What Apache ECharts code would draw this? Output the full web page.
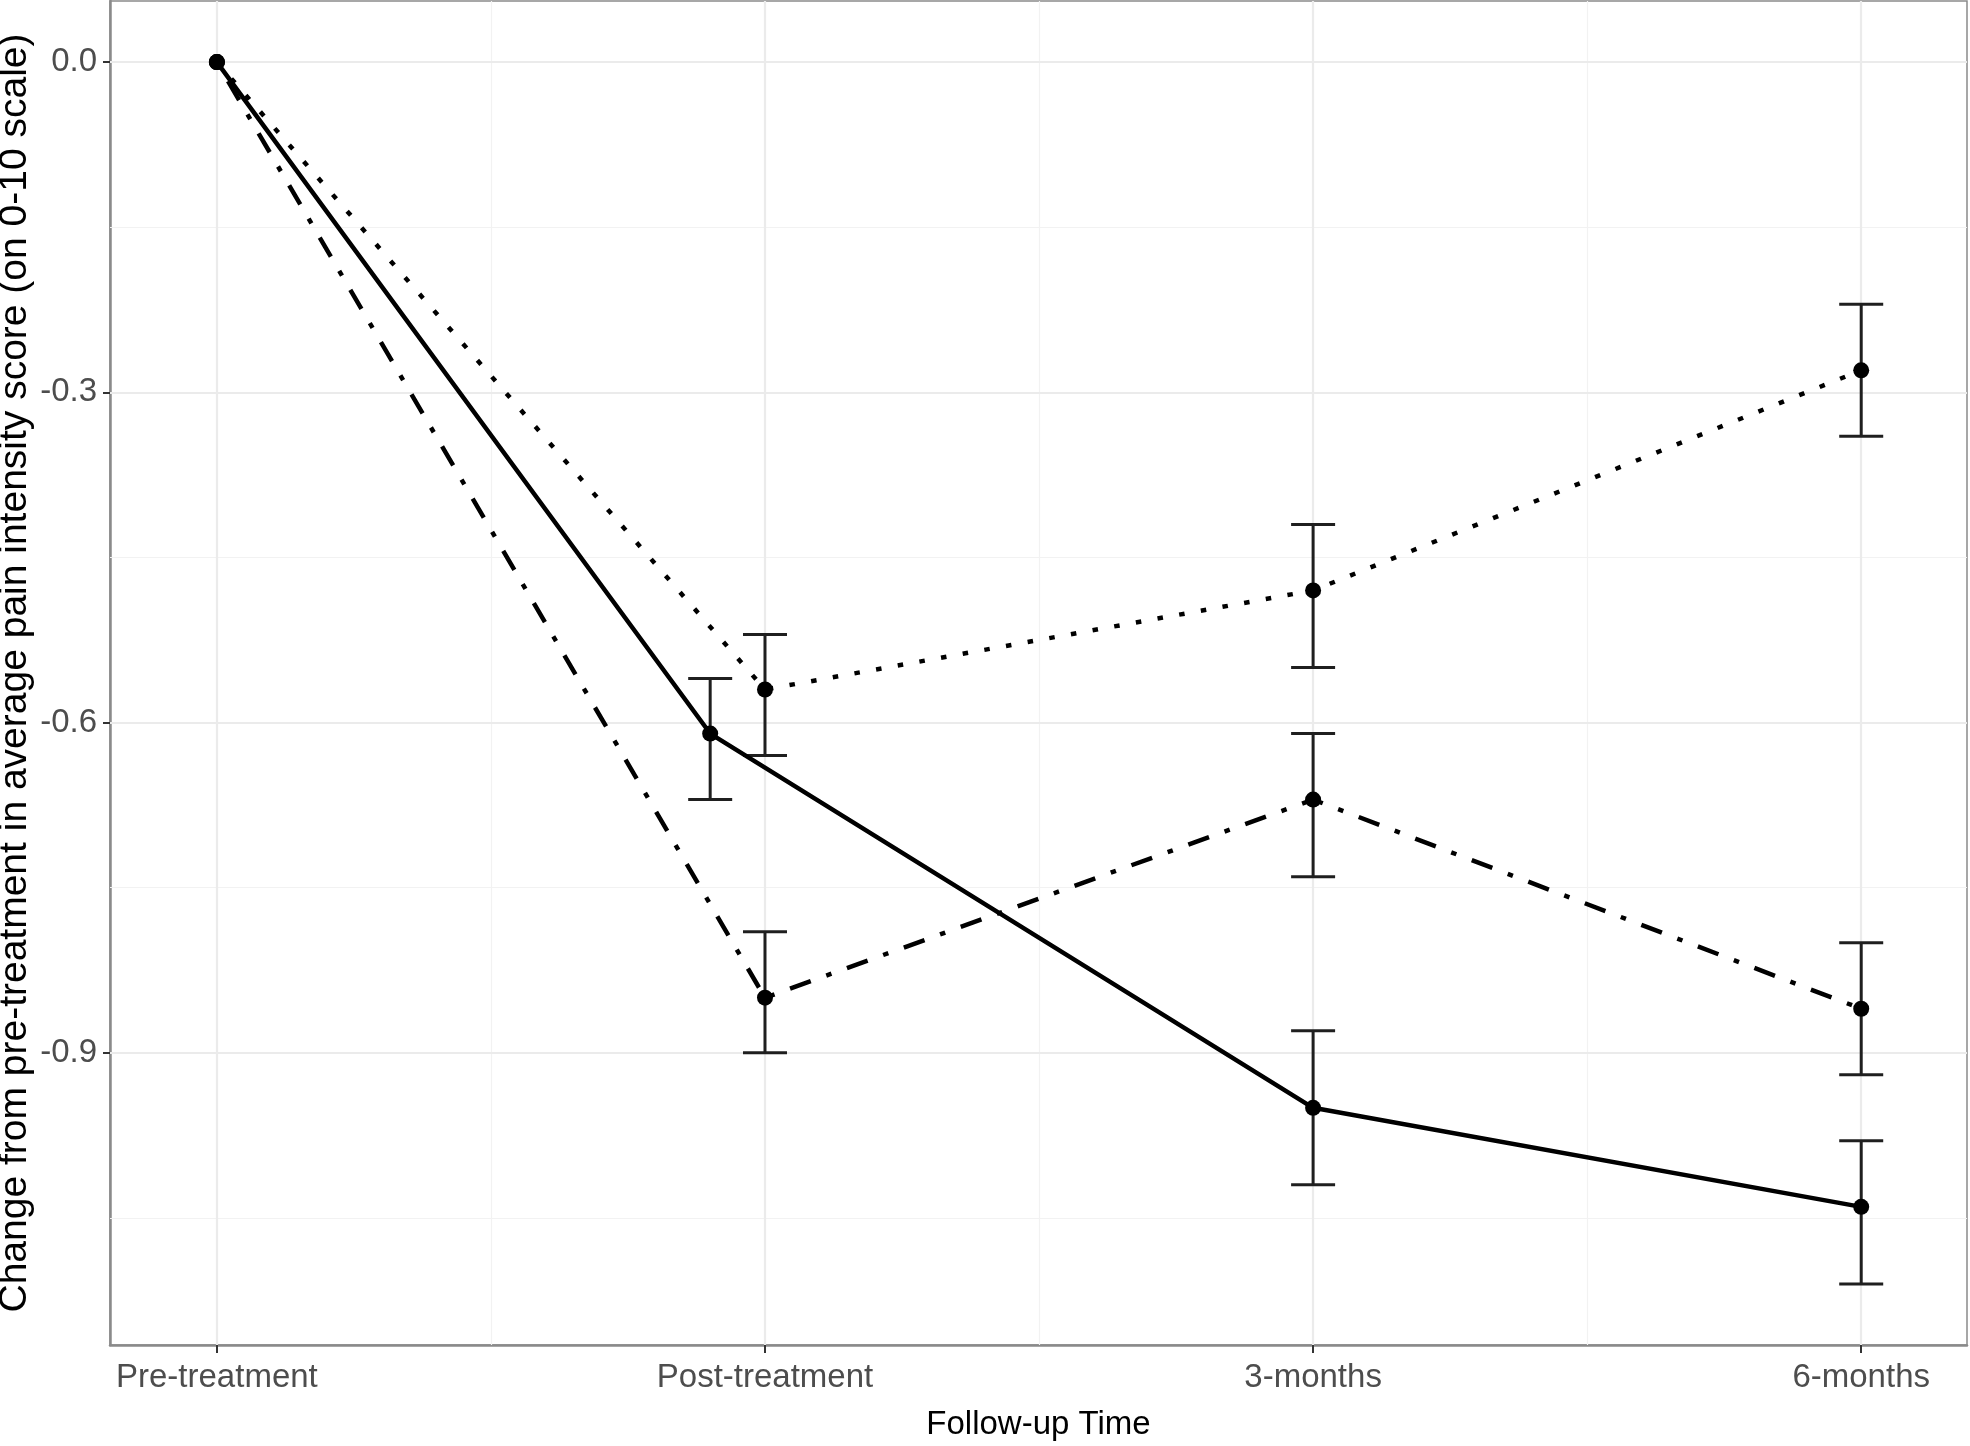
<!DOCTYPE html>
<html><head><meta charset="utf-8">
<script src="https://cdn.jsdelivr.net/npm/echarts@6/dist/echarts.min.js"></script>
<style>html,body{margin:0;padding:0;background:#fff}#c{width:1970px;height:1446px}</style>
</head><body><div id="c"></div>
<script>
// ---- data ----
const categories = ['Pre-treatment', 'Post-treatment', '3-months', '6-months'];
const catPositions = [1, 2, 3, 4];
const minorX = [1.5, 2.5, 3.5];
const majorY = [0, -0.3, -0.6, -0.9];
const minorY = [-0.15, -0.45, -0.75, -1.05];
const yTickLabels = ['0.0', '-0.3', '-0.6', '-0.9'];

const solidX = [1, 1.9, 3, 4];
const solidY = [0, -0.61, -0.95, -1.04];
const solidLow = [null, -0.67, -1.02, -1.11];
const solidHigh = [null, -0.56, -0.88, -0.98];

const dottedX = [1, 2, 3, 4];
const dottedY = [0, -0.57, -0.48, -0.28];
const dottedLow = [null, -0.63, -0.55, -0.34];
const dottedHigh = [null, -0.52, -0.42, -0.22];

const dashdotX = [1, 2, 3, 4];
const dashdotY = [0, -0.85, -0.67, -0.86];
const dashdotLow = [null, -0.90, -0.74, -0.92];
const dashdotHigh = [null, -0.79, -0.61, -0.80];

const xMin = 0.805, xMax = 4.193;
const yMin = -1.1655, yMax = 0.0555;

// ---- chart ----
const FONT = "'Liberation Sans', Arial, sans-serif";
const chart = echarts.init(document.getElementById('c'), null, {renderer: 'canvas'});

function zip(xs, ys) { return xs.map((x, i) => [x, ys[i]]); }

function errSeries(xs, lows, highs) {
  const data = [];
  xs.forEach((x, i) => { if (lows[i] != null) data.push([x, lows[i], highs[i]]); });
  return {
    type: 'custom', z: 3, silent: true, data: data,
    encode: {x: 0, y: [1, 2]},
    renderItem: function (params, api) {
      const x = api.value(0), lo = api.value(1), hi = api.value(2);
      const pLo = api.coord([x, lo]), pHi = api.coord([x, hi]);
      const hw = 22;
      const style = {stroke: '#1f1f1f', lineWidth: 3, fill: null};
      return {type: 'group', children: [
        {type: 'line', shape: {x1: pLo[0], y1: pLo[1], x2: pHi[0], y2: pHi[1]}, style: style},
        {type: 'line', shape: {x1: pLo[0] - hw, y1: pLo[1], x2: pLo[0] + hw, y2: pLo[1]}, style: style},
        {type: 'line', shape: {x1: pHi[0] - hw, y1: pHi[1], x2: pHi[0] + hw, y2: pHi[1]}, style: style}
      ]};
    }
  };
}

function lineSeries(xs, ys, dash) {
  return {
    type: 'line', z: 4, data: zip(xs, ys),
    symbol: 'circle', symbolSize: 16, showSymbol: true,
    itemStyle: {color: '#000'},
    lineStyle: {color: '#000', width: 4.5, type: dash, cap: 'butt'},
    emphasis: {disabled: true}
  };
}

const gridMajor = {color: '#ebebeb', width: 2.2, type: 'solid'};
const gridMinor = {color: '#f2f2f2', width: 1.2, type: 'solid'};
const gridLines = []
  .concat(minorX.map(v => ({xAxis: v, lineStyle: gridMinor})))
  .concat(minorY.map(v => ({yAxis: v, lineStyle: gridMinor})))
  .concat(catPositions.map(v => ({xAxis: v, lineStyle: gridMajor})))
  .concat(majorY.map(v => ({yAxis: v, lineStyle: gridMajor})));

chart.setOption({
  animation: false,
  backgroundColor: '#fff',
  grid: {left: 110, right: 3, top: 1, bottom: 101, containLabel: false, outerBoundsMode: 'none',
    show: true, borderColor: '#8a8a8a', borderWidth: 1.5, backgroundColor: '#fff'},
  xAxis: {
    type: 'value', min: xMin, max: xMax,
    name: 'Follow-up Time', nameLocation: 'middle', nameGap: 63, nameMoveOverlap: false,
    nameTextStyle: {fontFamily: FONT, fontSize: 33, color: '#000'},
    axisLine: {show: true, onZero: false, lineStyle: {color: '#8a8a8a', width: 2.5}},
    axisTick: {show: true, customValues: catPositions, length: 8, lineStyle: {color: '#333', width: 2}},
    axisLabel: {customValues: catPositions, margin: 16, fontFamily: FONT, fontSize: 33, color: '#4d4d4d',
      formatter: v => categories[catPositions.indexOf(v)] || ''},
    splitLine: {show: false}
  },
  yAxis: {
    type: 'value', min: yMin, max: yMax,
    name: 'Change from pre-treatment in average pain intensity score (on 0-10 scale)',
    nameLocation: 'middle', nameGap: 75, nameRotate: 90, nameMoveOverlap: false,
    nameTextStyle: {fontFamily: FONT, fontSize: 39, color: '#000'},
    axisLine: {show: true, onZero: false, lineStyle: {color: '#8a8a8a', width: 2.5}},
    axisTick: {show: true, customValues: majorY, length: 7, lineStyle: {color: '#333', width: 2}},
    axisLabel: {customValues: majorY, margin: 13, fontFamily: FONT, fontSize: 33, color: '#4d4d4d',
      formatter: v => yTickLabels[majorY.indexOf(v)] || ''},
    splitLine: {show: false}
  },
  series: [
    {type: 'line', z: 1, data: [], silent: true,
      markLine: {z: 1, silent: true, symbol: 'none', label: {show: false}, animation: false, data: gridLines}},
    errSeries(solidX, solidLow, solidHigh),
    errSeries(dottedX, dottedLow, dottedHigh),
    errSeries(dashdotX, dashdotLow, dashdotHigh),
    lineSeries(solidX, solidY, 'solid'),
    lineSeries(dottedX, dottedY, [5.5, 16.5]),
    lineSeries(dashdotX, dashdotY, [5.5, 16.5, 22, 16.5])
  ]
});
</script>
</body></html>
